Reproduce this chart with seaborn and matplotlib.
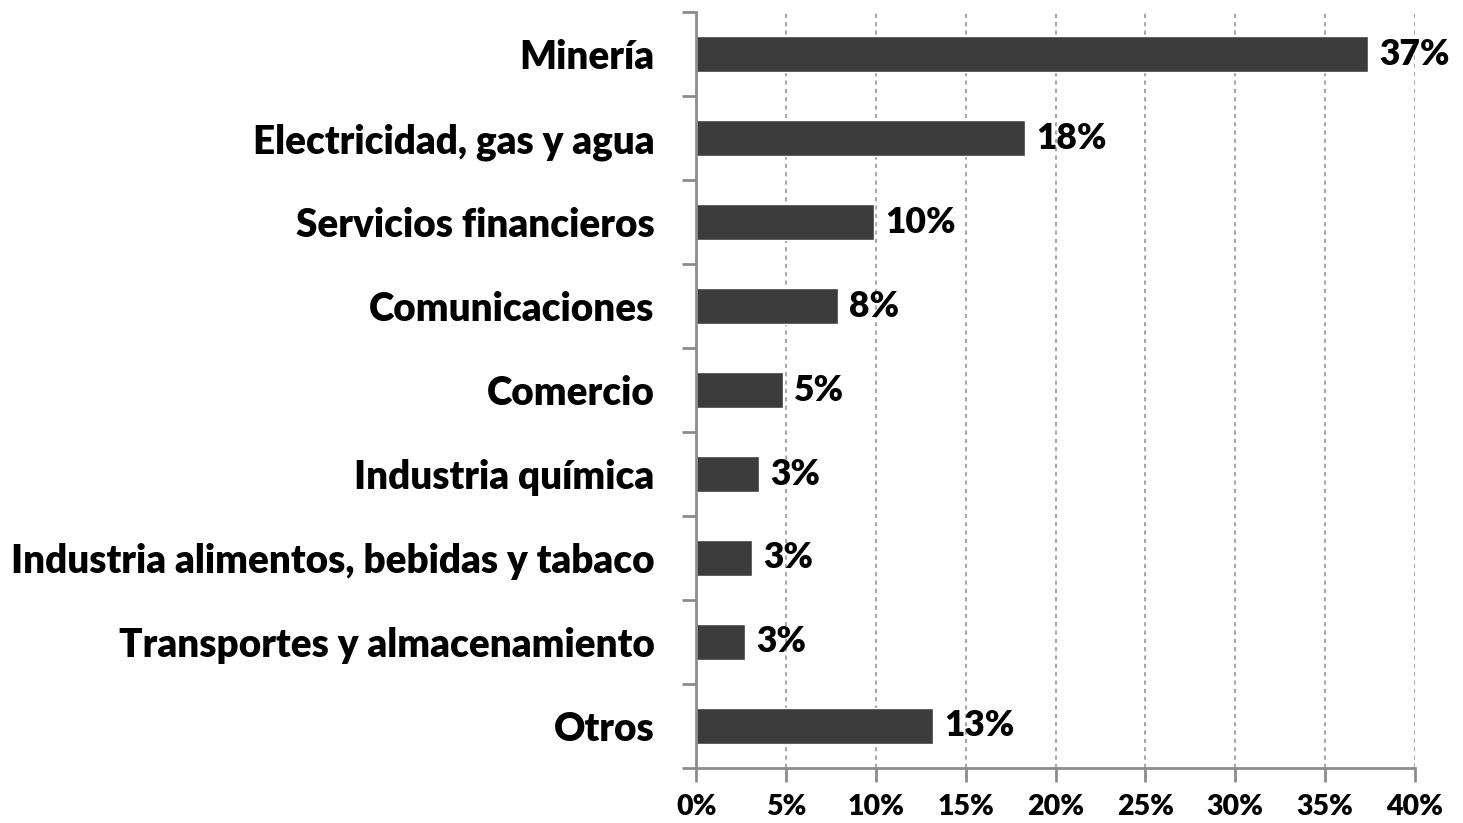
import matplotlib
matplotlib.use("Agg")
import matplotlib.pyplot as plt
import seaborn as sns
import pandas as pd
from matplotlib.ticker import MultipleLocator, FuncFormatter, FixedLocator

categories = ["Minería", "Electricidad, gas y agua", "Servicios financieros",
              "Comunicaciones", "Comercio", "Industria química",
              "Industria alimentos, bebidas y tabaco",
              "Transportes y almacenamiento", "Otros"]
values = [37.4, 18.3, 9.9, 7.9, 4.8, 3.5, 3.1, 2.7, 13.2]
labels = ["37%", "18%", "10%", "8%", "5%", "3%", "3%", "3%", "13%"]

sns.set_theme(style="white")
plt.rcParams['font.family'] = ['Lato', 'DejaVu Sans']

df = pd.DataFrame({"cat": categories, "val": values})

fig = plt.figure(figsize=(14.63, 8.23), dpi=100)
ax = fig.add_axes([0.476, 0.067, 0.491, 0.918])

sns.barplot(data=df, x="val", y="cat", orient="h", color="#3c3c3c",
            saturation=1, width=0.43, ax=ax)

ax.set_xlim(0, 40)
ax.set_ylim(len(categories) - 0.5, -0.5)
ax.xaxis.set_major_locator(MultipleLocator(5))
ax.xaxis.set_major_formatter(FuncFormatter(lambda v, p: f"{int(round(v))}%"))
ax.grid(axis="x", color="#a8a8a8", linestyle=(0, (2, 2)), linewidth=1.5)
ax.set_axisbelow(True)

for s in ["top", "right"]:
    ax.spines[s].set_visible(False)
for s in ["left", "bottom"]:
    ax.spines[s].set_color("#8c8c8c")
    ax.spines[s].set_linewidth(2)

ax.yaxis.set_minor_locator(FixedLocator([i - 0.5 for i in range(len(categories) + 1)]))
ax.tick_params(axis="y", which="minor", length=10, width=2, color="#8c8c8c", left=True)
ax.tick_params(axis="y", which="major", length=0, pad=30, labelsize=27.8, labelcolor="black")
ax.tick_params(axis="x", which="major", length=10, width=2, color="#8c8c8c",
               bottom=True, pad=9, labelsize=20.5, labelcolor="black")
for t in ax.get_yticklabels():
    t.set_fontweight("heavy")
for t in ax.get_xticklabels():
    t.set_fontweight("heavy")

ax.set_xlabel("")
ax.set_ylabel("")

for i, (v, lab) in enumerate(zip(values, labels)):
    ax.annotate(lab, xy=(v, i), xytext=(8, 0), textcoords="offset points",
                va="center", ha="left", fontsize=25.5, fontweight="heavy", color="black")

fig.savefig("out.png", dpi=100)
